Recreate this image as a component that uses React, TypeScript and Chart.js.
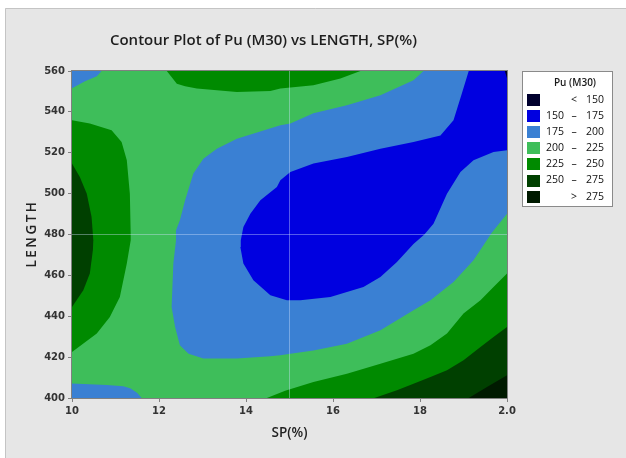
import React, { useEffect, useRef } from 'react';
import { Chart, registerables } from 'chart.js';

Chart.register(...registerables);

// ---------- text ----------
const chartTitle = 'Contour Plot of Pu (M30) vs LENGTH, SP(%)';
const xAxisTitle = 'SP(%)';
const yAxisTitle = 'LENGTH';
const xTickValues = [10, 12, 14, 16, 18, 20];
const xTickLabels = ['10', '12', '14', '16', '18', '2.0'];
const yMin = 400;
const yMax = 560;
const yStep = 20;

// ---------- legend ----------
const legendTitle = 'Pu (M30)';
const legendLow = ['', '150', '175', '200', '225', '250', ''];
const legendSep = ['<', '–', '–', '–', '–', '–', '>'];
const legendHigh = ['150', '175', '200', '225', '250', '275', '275'];
const levelColors = ['#00002e', '#0000e0', '#3a80d3', '#3ebe5a', '#008a00', '#004000', '#001a00'];

// ---------- contour regions, [SP, LENGTH] ----------
// level index refers to levelColors
const regionBase200: number[][] = [[10, 400], [20, 400], [20, 560], [10, 560]];
const region175Main: number[][] = [
  [18.08, 560], [20, 560], [20, 490.2], [19.65, 480.8], [19.23, 467.4], [18.77, 456.8], [18.24, 447.8],
  [17.85, 442.9], [17.09, 433.1], [16.32, 426.6], [15.55, 423.3], [15.02, 421.7], [14.79, 420.9],
  [14.56, 420.4], [13.79, 419.3], [13.02, 419.3], [12.68, 421.7], [12.48, 425.8], [12.37, 434.7],
  [12.29, 444.5], [12.33, 465.9], [12.39, 477.0], [12.39, 482.0], [12.48, 487.0], [12.6, 496.7],
  [12.79, 509.8], [13.02, 517.1], [13.33, 522.0], [13.79, 526.9], [14.79, 533.4], [15.02, 534.3],
  [15.55, 539.3], [16.32, 543.2], [17.09, 548.1], [17.85, 555.5], [18.08, 560],
];
const region175TopLeft: number[][] = [[10, 560], [10.68, 560], [10.57, 557.4], [10.3, 555.0], [10, 551.6]];
const region175BottomLeft: number[][] = [
  [10, 400], [10, 407.1], [10.8, 406.3], [11.18, 405.7], [11.35, 404.6], [11.5, 402.5], [11.6, 400],
];
const region150Main: number[][] = [
  [19.12, 560], [20, 560], [20, 521.2], [19.69, 520.4], [19.23, 516.3], [18.93, 510.6], [18.62, 500.0],
  [18.31, 485.3], [18.1, 480.0], [17.85, 475.3], [17.47, 466.5], [17.09, 459.2],
  [16.7, 454.3], [15.94, 449.4], [15.25, 447.8], [14.94, 447.8], [14.56, 450.3], [14.17, 457.6],
  [13.94, 465.8], [13.87, 473.9], [13.88, 477.2], [13.94, 483.7], [14.1, 490.2], [14.33, 496.7],
  [14.71, 503.2], [14.79, 506.5], [15.02, 510.6], [15.55, 514.7], [16.32, 517.9], [17.09, 522.0],
  [17.85, 525.3], [18.47, 528.5], [18.77, 535.9], [18.96, 548.9], [19.12, 560],
];
const regionBelow150Corner: number[][] = [[19.95, 560], [20, 560], [20, 556.5]];
const region225Top: number[][] = [
  [12.18, 560], [12.41, 553.8], [12.6, 552.5], [12.87, 551.4], [13.79, 549.7], [14.56, 550.2],
  [14.79, 551.4], [15.55, 553.0], [16.17, 556.3], [16.63, 560],
];
const region225Left: number[][] = [
  [10, 535.9], [10.41, 534.3], [10.91, 531.0], [11.14, 525.3], [11.26, 516.3], [11.33, 500.0],
  [11.35, 480.0], [11.35, 477.2], [11.26, 465.8], [11.1, 449.4], [10.87, 439.6], [10.57, 431.5],
  [10, 422.5],
];
const region225BottomRight: number[][] = [
  [14.48, 400], [14.9, 403.6], [15.55, 407.8], [16.32, 411.9], [17.09, 416.8], [17.85, 421.7],
  [18.24, 425.8], [18.62, 431.5], [19.0, 441.3], [19.39, 447.8], [19.69, 454.3], [20, 460.9], [20, 400],
];
const region250Left: number[][] = [
  [10, 514.7], [10.18, 508.1], [10.34, 500.0], [10.45, 488.6], [10.49, 477.2], [10.48, 472.3],
  [10.41, 460.9], [10.26, 452.7], [10, 444.5],
];
const region250BottomRight: number[][] = [
  [16.95, 400], [17.47, 403.8], [17.85, 407.0], [18.24, 410.3], [18.62, 413.6], [19.0, 418.5],
  [19.39, 425.0], [19.69, 429.9], [20, 434.7], [20, 400],
];
const region275BottomRight: number[][] = [[19.12, 400], [19.54, 405.4], [20, 411.1], [20, 400]];

const regions: { pts: number[][]; level: number }[] = [
  { pts: regionBase200, level: 3 },
  { pts: region175Main, level: 2 },
  { pts: region175TopLeft, level: 2 },
  { pts: region175BottomLeft, level: 2 },
  { pts: region150Main, level: 1 },
  { pts: regionBelow150Corner, level: 0 },
  { pts: region225Top, level: 4 },
  { pts: region225Left, level: 4 },
  { pts: region225BottomRight, level: 4 },
  { pts: region250Left, level: 5 },
  { pts: region250BottomRight, level: 5 },
  { pts: region275BottomRight, level: 6 },
];

// reference lines
const refX = 15;
const refY = 480;

const backgroundPlugin = {
  id: 'panelBg',
  beforeDraw(chart: any) {
    const { ctx, width, height } = chart;
    ctx.save();
    ctx.fillStyle = '#ffffff';
    ctx.fillRect(0, 0, width, height);
    ctx.fillStyle = '#e6e6e6';
    ctx.fillRect(5, 8, width - 5, height - 8);
    ctx.strokeStyle = '#c4c4c4';
    ctx.lineWidth = 1;
    ctx.beginPath();
    ctx.moveTo(5.5, height);
    ctx.lineTo(5.5, 8.5);
    ctx.lineTo(width, 8.5);
    ctx.stroke();
    ctx.restore();
  },
};

const frameLegendPlugin = {
  id: 'frameLegend',
  afterDatasetsDraw(chart: any) {
    const { ctx, chartArea } = chart;
    ctx.save();
    ctx.strokeStyle = '#808080';
    ctx.lineWidth = 1;
    ctx.strokeRect(
      Math.round(chartArea.left) - 0.5,
      Math.round(chartArea.top) - 0.5,
      Math.round(chartArea.right - chartArea.left) + 1,
      Math.round(chartArea.bottom - chartArea.top) + 1
    );
    ctx.restore();
  },
  afterDraw(chart: any) {
    const { ctx, chartArea } = chart;
    ctx.save();
    // y-axis title, letter-spaced as in the original
    ctx.fillStyle = '#222222';
    ctx.font = '600 13.5px "Open Sans"';
    (ctx as any).letterSpacing = '2.5px';
    ctx.textAlign = 'center';
    ctx.textBaseline = 'middle';
    ctx.translate(32, (chartArea.top + chartArea.bottom) / 2);
    ctx.rotate(-Math.PI / 2);
    ctx.fillText(yAxisTitle, 1, 0);
    ctx.restore();

    ctx.save();
    const bx = 522, by = 71, bw = 90, bh = 135;
    ctx.fillStyle = '#ffffff';
    ctx.fillRect(bx, by, bw, bh);
    ctx.strokeStyle = '#8a8a8a';
    ctx.lineWidth = 1;
    ctx.strokeRect(bx + 0.5, by + 0.5, bw, bh);
    ctx.fillStyle = '#1a1a1a';
    ctx.textBaseline = 'middle';
    ctx.textAlign = 'center';
    ctx.font = '600 10px "Open Sans"';
    ctx.fillText(legendTitle, 575, 83);
    ctx.font = '10.5px "Open Sans"';
    for (let i = 0; i < levelColors.length; i++) {
      const cy = 100 + i * 16.1;
      ctx.fillStyle = levelColors[i];
      ctx.fillRect(527, Math.round(cy - 6), 13, 12);
      ctx.fillStyle = '#111111';
      ctx.textAlign = 'right';
      if (legendLow[i]) ctx.fillText(legendLow[i], 564, cy);
      ctx.fillText(legendHigh[i], 604, cy);
      ctx.textAlign = 'center';
      ctx.fillText(legendSep[i], 574, cy);
    }
    ctx.restore();
  },
};

export default function App() {
  const ref = useRef<HTMLCanvasElement | null>(null);

  useEffect(() => {
    if (!ref.current) return;
    const n = regions.length;
    const datasets: any[] = regions.map((r, i) => ({
      data: r.pts.map(([x, y]) => ({ x, y })),
      showLine: true,
      fill: 'shape',
      backgroundColor: levelColors[r.level],
      borderColor: levelColors[r.level],
      borderWidth: 0,
      pointRadius: 0,
      pointHoverRadius: 0,
      tension: 0,
      order: n - i + 2,
    }));
    datasets.push({
      data: [{ x: refX, y: yMin }, { x: refX, y: yMax }],
      showLine: true,
      fill: false,
      borderColor: 'rgba(210,225,255,0.4)',
      borderWidth: 1,
      pointRadius: 0,
      order: 0,
    });
    datasets.push({
      data: [{ x: xTickValues[0], y: refY }, { x: xTickValues[xTickValues.length - 1], y: refY }],
      showLine: true,
      fill: false,
      borderColor: 'rgba(210,225,255,0.4)',
      borderWidth: 1,
      pointRadius: 0,
      order: 0,
    });

    const chart = new Chart(ref.current, {
      type: 'scatter',
      data: { datasets },
      plugins: [backgroundPlugin, frameLegendPlugin],
      options: {
        animation: false,
        responsive: false,
        devicePixelRatio: 1,
        layout: { padding: { left: 20, right: 119, top: 0, bottom: 10 } },
        plugins: {
          legend: { display: false },
          tooltip: { enabled: false },
          title: {
            display: true,
            text: chartTitle,
            color: '#1e1e1e',
            font: { family: '"Open Sans"', size: 15, weight: '600' },
            padding: { top: 32, bottom: 21 },
          },
        },
        scales: {
          x: {
            type: 'linear',
            min: xTickValues[0],
            max: xTickValues[xTickValues.length - 1],
            afterFit: (s: any) => { s.height = 50; },
            afterBuildTicks: (s: any) => { s.ticks = xTickValues.map((v) => ({ value: v })); },
            ticks: {
              autoSkip: false,
              maxRotation: 0,
              padding: 3,
              color: '#333333',
              font: { family: '"DejaVu Sans"', size: 10, weight: 'bold' },
              callback: (v: any) => xTickLabels[xTickValues.indexOf(Number(v))],
            },
            grid: { display: true, drawOnChartArea: false, drawTicks: true, tickLength: 4, color: '#808080' },
            border: { display: true, color: '#808080' },
            title: {
              display: true,
              text: xAxisTitle,
              color: '#222222',
              font: { family: '"Open Sans"', size: 13.5, weight: '600' },
              padding: { top: 0, bottom: 7 },
            },
          },
          y: {
            type: 'linear',
            min: yMin,
            max: yMax,
            afterFit: (s: any) => { s.width = 52; },
            ticks: {
              stepSize: yStep,
              padding: 3,
              color: '#333333',
              font: { family: '"DejaVu Sans"', size: 10, weight: 'bold' },
            },
            grid: { display: true, drawOnChartArea: false, drawTicks: true, tickLength: 4, color: '#808080' },
            border: { display: true, color: '#808080' },
            title: { display: false },
          },
        },
      },
    });
    return () => chart.destroy();
  }, []);

  return (
    <div style={{ position: 'absolute', left: 0, top: 0, width: 626, height: 458 }}>
      <canvas ref={ref} width={626} height={458} style={{ display: 'block', width: 626, height: 458 }} />
    </div>
  );
}
